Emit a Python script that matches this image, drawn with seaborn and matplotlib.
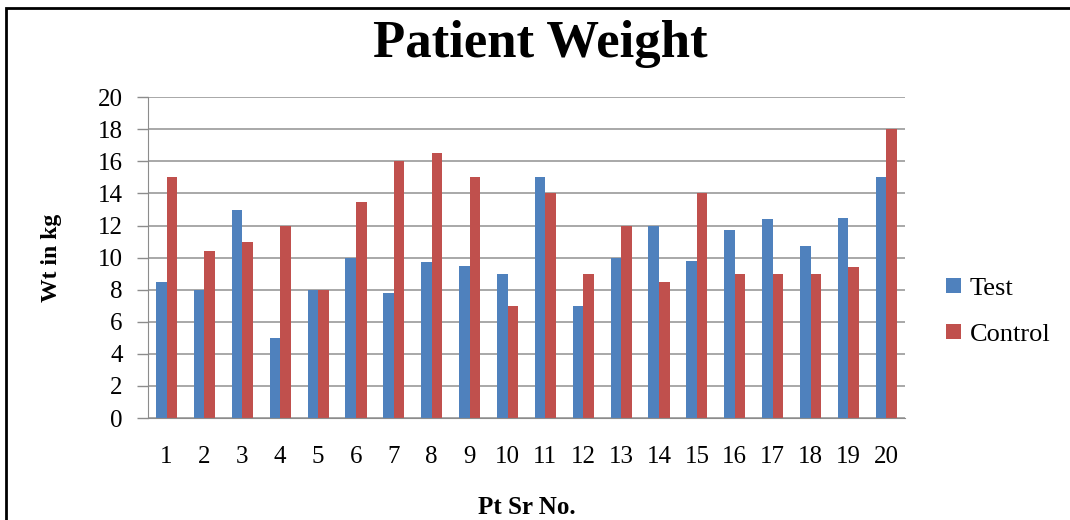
import pandas as pd
import matplotlib
matplotlib.use("Agg")
import matplotlib.pyplot as plt
import seaborn as sns
from matplotlib.patches import Rectangle

# data
patients = [str(i) for i in range(1, 21)]
test_wt = [8.5, 8, 13, 5, 8, 10, 7.8, 9.7, 9.5, 9, 15, 7, 10, 12, 9.8, 11.7, 12.4, 10.7, 12.5, 15]
control_wt = [15, 10.4, 11, 12, 8, 13.5, 16, 16.5, 15, 7, 14, 9, 12, 8.5, 14, 9, 9, 9, 9.4, 18]
groups = ["Test", "Control"]
colors = ["#4F81BD", "#C0504D"]

df = pd.DataFrame({
    "Patient": patients * 2,
    "Weight": test_wt + control_wt,
    "Group": ["Test"] * len(patients) + ["Control"] * len(patients),
})

sns.set_style("white")
plt.rcParams["font.family"] = ["Liberation Serif", "DejaVu Serif"]
plt.rcParams["text.color"] = "black"
plt.rcParams["xtick.color"] = "#8c8c8c"
plt.rcParams["ytick.color"] = "#8c8c8c"
plt.rcParams["xtick.labelcolor"] = "black"
plt.rcParams["ytick.labelcolor"] = "black"

fig = plt.figure(figsize=(10.7, 5.2), dpi=100)
ax = fig.add_axes([0.138, 0.196, 0.708, 0.617])

sns.barplot(data=df, x="Patient", y="Weight", hue="Group", hue_order=groups,
            palette=colors, width=0.56, saturation=1, ax=ax, errorbar=None,
            linewidth=0)

ax.set_ylim(0, 20)
ax.set_yticks(range(0, 21, 2))
ax.grid(axis="y", color="#999999", linewidth=1.2)
ax.set_axisbelow(True)
for s in ["top", "right"]:
    ax.spines[s].set_visible(False)
ax.spines["left"].set_color("#8c8c8c")
ax.spines["bottom"].set_color("#8c8c8c")
ax.tick_params(axis="y", labelsize=18, length=8, width=1, direction="out", pad=10, left=True)
ax.tick_params(axis="x", labelsize=18, length=0, pad=20)

ax.set_xlabel("Pt Sr No.", fontsize=18, fontweight="bold", labelpad=20, color="black")
ax.set_ylabel("Wt in kg", fontsize=17, fontweight="bold", labelpad=26, color="black")
fig.text(0.505, 0.915, "Patient Weight", ha="center", va="center",
         fontsize=38, fontweight="bold", color="black")

ax.legend(loc="center left", bbox_to_anchor=(1.022, 0.33), frameon=False,
          fontsize=19, handlelength=0.6, handleheight=0.5, labelspacing=0.9,
          handletextpad=0.3)

fig.patches.append(Rectangle((0.006, -0.05), 1.2, 1.035, transform=fig.transFigure,
                             fill=False, edgecolor="black", linewidth=2))

fig.savefig("out.png", dpi=100)
